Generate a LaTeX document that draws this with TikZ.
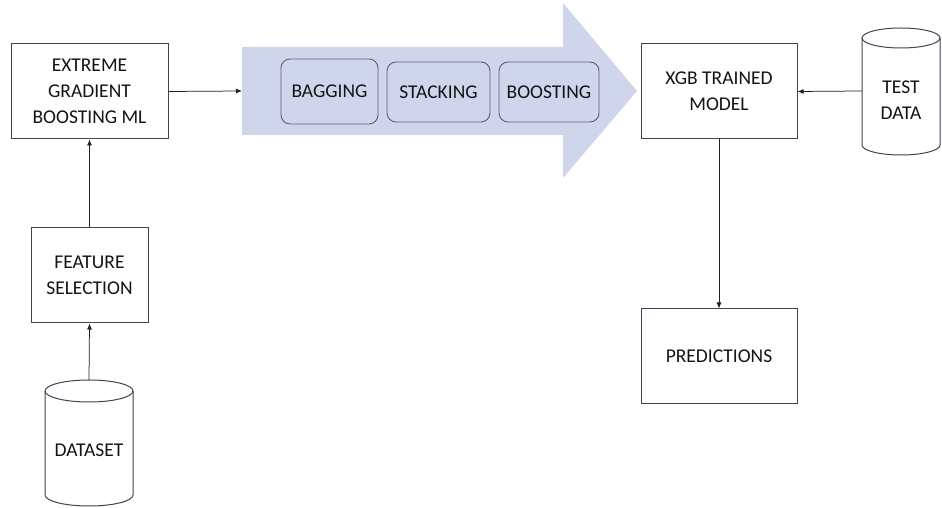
\documentclass[tikz,border=0pt]{standalone}
\usepackage{fontspec}
\setmainfont{Carlito}
\usetikzlibrary{arrows.meta}
\definecolor{arrowfill}{HTML}{CFD5EA}
\definecolor{boxline}{HTML}{3E4456}
\definecolor{conn}{HTML}{202020}
\begin{document}
\begin{tikzpicture}[x=1pt,y=1pt,
  every node/.style={font=\fontsize{19.5}{26}\selectfont, text=black!92},
  procbox/.style={draw=boxline, line width=1pt, fill=white, align=center, inner sep=0pt},
  techbox/.style={draw=boxline!85, line width=0.9pt, fill=arrowfill, rounded corners=9pt, align=center, inner sep=0pt},
  cyl/.style={draw=boxline, line width=1pt, fill=white},
  conn/.style={draw=conn, line width=0.75pt, -{Latex[length=6pt,width=5pt]}}]
\useasboundingbox (0,0) rectangle (942,508);
% big arrow
\fill[arrowfill] (242,461) -- (563,461) -- (563,505) -- (637,417) -- (563,330) -- (563,373) -- (242,373) -- cycle;
\coordinate (arrowin) at (242,417);
% technique boxes
\node[techbox, minimum width=97pt, minimum height=65pt] (bag) at (329.5,416.5) {BAGGING};
\node[techbox, minimum width=103pt, minimum height=60pt] (stack) at (438.5,416) {STACKING};
\node[techbox, minimum width=100pt, minimum height=60pt] (boost) at (549,416) {BOOSTING};
% process boxes
\node[procbox, minimum width=157pt, minimum height=95pt] (xgbml) at (89.5,416.5) {EXTREME\\GRADIENT\\BOOSTING ML};
\node[procbox, minimum width=117pt, minimum height=95pt] (feat) at (89.5,232.5) {FEATURE\\SELECTION};
\node[procbox, minimum width=156pt, minimum height=95pt] (model) at (719,416.5) {XGB TRAINED\\MODEL};
\node[procbox, minimum width=156pt, minimum height=95pt] (pred) at (719,151.5) {PREDICTIONS};
% dataset cylinder
\path[cyl] (45,117) -- (45,13) arc (180:360:44 and 11) -- (133,117) arc (0:180:44 and 11) -- cycle;
\draw[draw=boxline, line width=1pt] (45,117) arc (180:360:44 and 11);
\node (dataset) at (89,58) {DATASET};
\coordinate (datatop) at (89,128);
% test data cylinder
\path[cyl] (862,470) -- (862,363) arc (180:360:39 and 10) -- (940,470) arc (0:180:39 and 10) -- cycle;
\draw[draw=boxline, line width=1pt] (862,470) arc (180:360:39 and 10);
\node[align=center] (test) at (901,408) {TEST\\DATA};
\coordinate (testleft) at (862,417);
% connectors
\draw[conn] (datatop) -- (feat.south);
\draw[conn] (feat.north) -- (xgbml.south);
\draw[conn] (xgbml.east) -- (arrowin);
\draw[conn] (testleft) -- (model.east);
\draw[conn] (model.south) -- (pred.north);
\end{tikzpicture}
\end{document}
